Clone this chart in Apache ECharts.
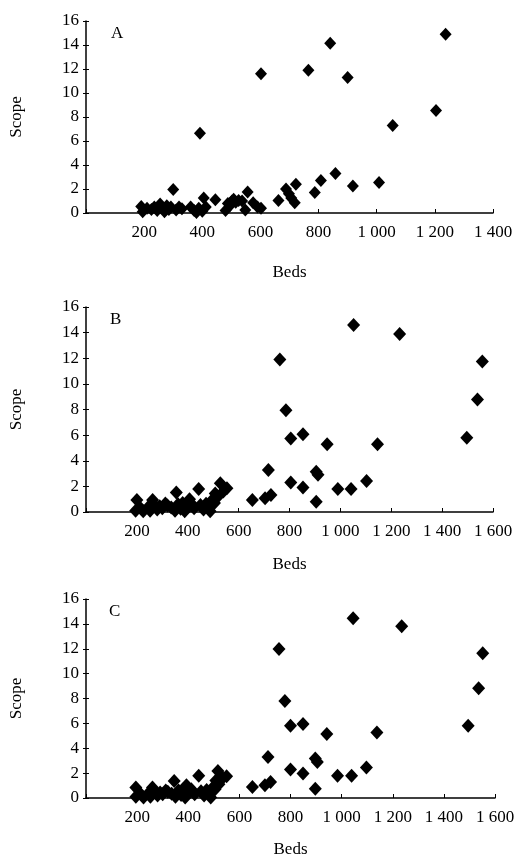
<!DOCTYPE html>
<html>
<head>
<meta charset="utf-8">
<script src="https://cdn.jsdelivr.net/npm/echarts@6/dist/echarts.min.js"></script>
<style>
html,body{margin:0;padding:0;background:#fff;}
#chart{width:525px;height:863px;}
</style>
</head>
<body>
<div id="chart"></div>
<script>
// ---- Data ----
const panelLabels = ['A', 'B', 'C'];
const yTicks = [0, 2, 4, 6, 8, 10, 12, 14, 16];
const xMaxA = 1400, xMaxBC = 1600;

const bedsA  = [190,195,210,225,235,245,255,262,270,278,285,292,300,310,320,330,360,372,380,388,392,400,405,412,445,480,488,495,502,508,515,525,537,548,556,575,590,602,602,662,688,698,706,718,722,765,787,808,840,858,900,918,1008,1055,1204,1237];
const scopeA = [0.55,0.1,0.4,0.3,0.5,0.2,0.75,0.45,0.1,0.6,0.3,0.5,1.95,0.25,0.5,0.35,0.5,0.2,0.05,0.4,6.65,0.15,1.25,0.5,1.1,0.2,0.8,0.6,1.0,1.15,0.9,1.05,1.0,0.25,1.75,0.85,0.5,0.4,11.6,1.05,2.0,1.6,1.25,0.85,2.4,11.9,1.7,2.7,14.15,3.3,11.3,2.25,2.55,7.3,8.55,14.9];

const bedsB  = [195,200,215,225,245,252,262,270,280,290,300,312,320,335,350,355,362,372,380,388,395,407,412,425,443,450,462,472,480,488,496,505,508,518,528,540,554,654,704,717,727,762,786,805,805,853,853,905,905,912,948,990,1042,1052,1103,1146,1233,1497,1539,1558];
const scopeB = [0.1,0.93,0.3,0.05,0.4,0.1,0.93,0.5,0.2,0.45,0.3,0.67,0.5,0.35,0.1,1.53,0.6,0.25,0.7,0.05,0.4,1.0,0.7,0.3,1.79,0.55,0.2,0.65,0.35,0.05,0.93,0.7,1.45,1.2,2.24,1.6,1.85,0.93,1.07,3.27,1.33,11.9,7.95,5.74,2.3,6.07,1.92,3.14,0.8,2.9,5.28,1.79,1.79,14.6,2.42,5.28,13.9,5.8,8.78,11.75];

const bedsC  = [195,195,215,225,245,252,260,270,280,290,300,312,320,335,345,350,362,372,380,388,393,400,412,425,441,450,462,472,480,488,496,505,508,516,520,535,550,651,700,712,722,755,778,800,800,849,849,897,897,905,942,984,1039,1045,1097,1138,1235,1495,1536,1552];
const scopeC = [0.1,0.84,0.3,0.05,0.4,0.1,0.84,0.5,0.2,0.45,0.3,0.6,0.5,0.35,1.37,0.1,0.6,0.25,0.7,0.05,1.02,0.4,0.7,0.3,1.78,0.55,0.2,0.65,0.35,0.05,0.85,0.7,1.4,2.18,1.1,1.6,1.75,0.89,1.02,3.3,1.29,11.97,7.8,5.8,2.29,5.94,1.97,3.17,0.75,2.9,5.14,1.78,1.78,14.45,2.45,5.27,13.8,5.8,8.82,11.64];

// ---- Layout ----
const FONT = '"Liberation Serif","Times New Roman",serif';
const FS = 17;
const grids = [
  {left: 85, top: 21, width: 408, height: 192},
  {left: 84, top: 307, width: 409, height: 205},
  {left: 83, top: 599, width: 412, height: 199}
];
const xMaxes = [xMaxA, xMaxBC, xMaxBC];
const nameGapsX = [51, 44, 43];
const symbolSizes = [[12, 13], [13, 14], [13, 14]];
const datasets = [[bedsA, scopeA], [bedsB, scopeB], [bedsC, scopeC]];

function fmtThousands(v) {
  if (v === 0) return '';
  return String(v).replace(/\B(?=(\d{3})+(?!\d))/g, ' ');
}

const xAxis = [], yAxis = [], series = [], graphic = [];
grids.forEach((g, i) => {
  xAxis.push({
    type: 'value', gridIndex: i, min: 0, max: xMaxes[i], interval: 200,
    name: 'Beds', nameLocation: 'middle', nameGap: nameGapsX[i],
    nameTextStyle: {fontFamily: FONT, fontSize: FS, color: '#000'},
    axisLine: {show: true, lineStyle: {color: '#000', width: 1.5}},
    axisTick: {show: true, inside: true, length: 4, lineStyle: {color: '#000', width: 1}},
    axisLabel: {fontFamily: FONT, fontSize: FS, color: '#000', margin: 11, formatter: fmtThousands},
    splitLine: {show: false}
  });
  yAxis.push({
    type: 'value', gridIndex: i, min: yTicks[0], max: yTicks[yTicks.length - 1], interval: 2,
    position: 'left',
    name: 'Scope', nameLocation: 'middle', nameGap: 61, nameRotate: 90,
    nameTextStyle: {fontFamily: FONT, fontSize: FS, color: '#000'},
    axisLine: {show: true, lineStyle: {color: '#000', width: 1.5}},
    axisTick: {show: true, inside: false, length: 3, lineStyle: {color: '#000', width: 1}},
    axisLabel: {fontFamily: FONT, fontSize: FS, color: '#000', margin: 7},
    splitLine: {show: false}
  });
  yAxis.push({
    type: 'value', gridIndex: i, min: yTicks[0], max: yTicks[yTicks.length - 1], interval: 2,
    position: 'left', offset: 0,
    axisLine: {show: false},
    axisTick: {show: true, inside: true, length: 3, lineStyle: {color: '#000', width: 1}},
    axisLabel: {show: false},
    splitLine: {show: false}
  });
  const [xs, ys] = datasets[i];
  series.push({
    type: 'scatter', xAxisIndex: i, yAxisIndex: 2 * i,
    symbol: 'diamond', symbolSize: symbolSizes[i],
    itemStyle: {color: '#000', opacity: 1},
    data: xs.map((x, k) => [x, ys[k]]),
    silent: true
  });
  graphic.push({
    type: 'text', left: g.left + 26, top: g.top + 4,
    style: {text: panelLabels[i], font: FS + 'px ' + FONT, fill: '#000'}
  });
});

const chart = echarts.init(document.getElementById('chart'), null, {renderer: 'canvas'});
chart.setOption({
  backgroundColor: '#fff',
  animation: false,
  grid: grids,
  xAxis, yAxis, series, graphic
});
</script>
</body>
</html>
